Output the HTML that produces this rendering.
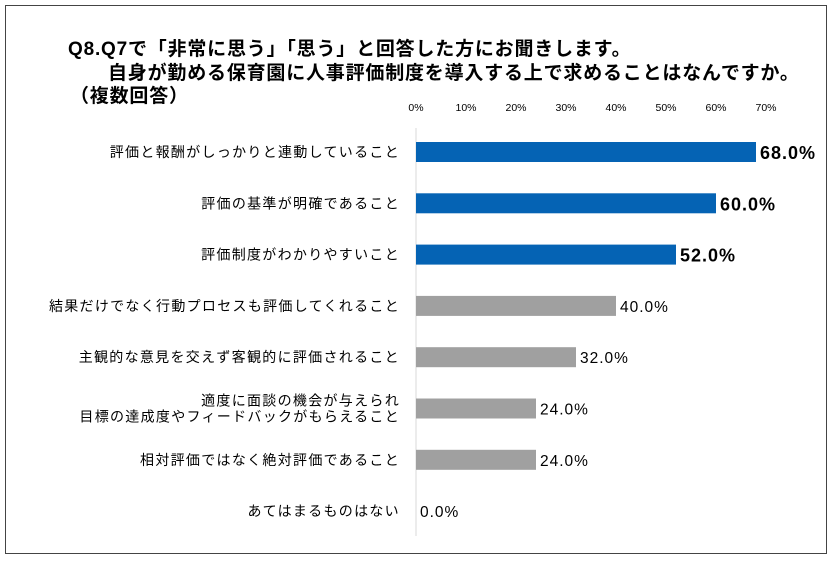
<!DOCTYPE html>
<html><head><meta charset="utf-8"><style>
body{margin:0;background:#fff;font-family:"Liberation Sans","Noto Sans CJK JP",sans-serif;}
#frame{position:absolute;left:5px;top:5px;width:822px;height:549px;border:1px solid #444;box-sizing:border-box;}
.t{position:absolute;font-weight:bold;font-size:19px;letter-spacing:0.8px;color:#000;white-space:nowrap;}
</style></head><body>
<div id="frame"></div>
<div class="t" style="left:68px;top:34px">Q8.Q7で「非常に思う」「思う」と回答した方にお聞きします。</div>
<div class="t" style="left:108px;top:58px">自身が勤める保育園に人事評価制度を導入する上で求めることはなんですか。</div>
<div class="t" style="left:70px;top:81px">（複数回答）</div>
<svg id="chart" width="835" height="562" style="position:absolute;left:0;top:0"></svg>
<script>
const categories=["評価と報酬がしっかりと連動していること","評価の基準が明確であること","評価制度がわかりやすいこと","結果だけでなく行動プロセスも評価してくれること","主観的な意見を交えず客観的に評価されること","適度に面談の機会が与えられ\n目標の達成度やフィードバックがもらえること","相対評価ではなく絶対評価であること","あてはまるものはない"];
const values=[68,60,52,40,32,24,24,0];
const highlight=[true,true,true,false,false,false,false,false];
const ticks=[0,10,20,30,40,50,60,70];
const NS="http://www.w3.org/2000/svg";
const svg=document.getElementById('chart');
const x=v=>416+v*5;
const y=i=>152+i*51.3;
function mk(t,a){const e=document.createElementNS(NS,t);for(const k in a)e.setAttribute(k,a[k]);svg.appendChild(e);return e;}
ticks.forEach(t=>{const e=mk('text',{x:x(t),y:111,'text-anchor':'middle','font-size':10.5,fill:'#000'});e.textContent=t+'%';

});
const ax=mk('line',{x1:416,x2:416,y1:128,y2:536,stroke:'#d9d9d9','stroke-width':1});


categories.forEach((c,i)=>{
 const cy=y(i);
 const r=mk('rect',{x:x(0),y:cy-10,width:x(values[i])-x(0),height:20,fill:highlight[i]?'#0563b4':'#a0a0a0'});
 
 
 const lines=c.split('\n');
 lines.forEach((l,j)=>{const t=mk('text',{x:400,y:cy+5+(j-(lines.length-1)/2)*16,'text-anchor':'end','font-size':14,'letter-spacing':1.3,fill:'#000'});t.textContent=l;
 
 });
 const v=mk('text',{x:x(values[i])+4,y:cy+(highlight[i]?7:6),'font-size':highlight[i]?18:15.5,'letter-spacing':1,'font-weight':highlight[i]?'bold':'normal',fill:'#000'});
 v.textContent=values[i].toFixed(1)+'%';
 
 
});
</script>
</body></html>
